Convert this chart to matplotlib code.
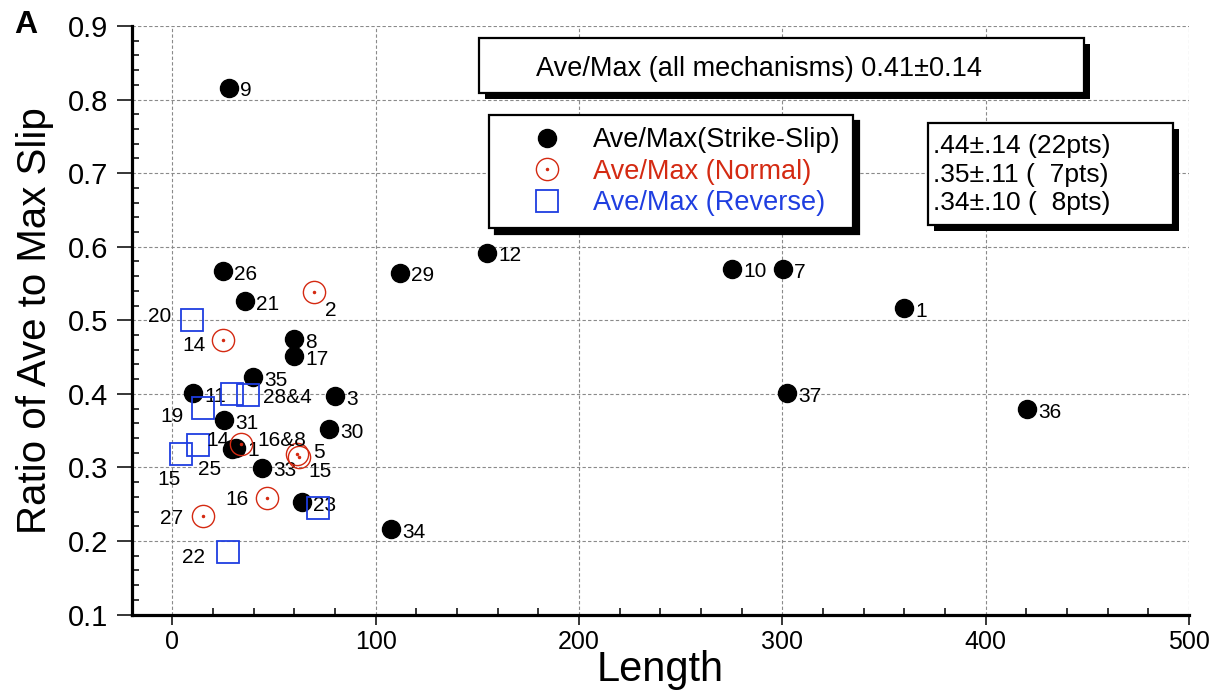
import matplotlib
matplotlib.use("Agg")
import matplotlib.pyplot as plt
import matplotlib.patheffects as pe
from matplotlib.lines import Line2D
from matplotlib.patches import Rectangle
from matplotlib.legend_handler import HandlerTuple
from matplotlib.ticker import MultipleLocator

plt.rcParams['font.family'] = ['Liberation Sans', 'DejaVu Sans']

RED = '#d42a12'
BLUE = '#1f3ee0'

# strike-slip events: rupture length vs ave/max slip ratio
ss_len = [28, 24.8, 35.8, 60, 60, 39.9, 10.3, 80.1, 25.5, 77.2, 29.4, 31.4,
          44.3, 112.2, 155, 275.2, 300.3, 359.9, 302.3, 420.5, 107.7, 64]
ss_ratio = [0.816, 0.5665, 0.526, 0.474, 0.451, 0.4227, 0.4005, 0.397, 0.3643,
            0.3517, 0.3244, 0.327, 0.2997, 0.5647, 0.592, 0.570, 0.569, 0.516,
            0.4005, 0.379, 0.216, 0.2524]
ss_id = ["9", "26", "21", "8", "17", "35", "11", "3", "31", "30", "", "1",
         "33", "29", "12", "10", "7", "1", "37", "36", "34", "23"]

# normal events
nm_len = [69.8, 24.8, 33.9, 61.3, 62.1, 46.8, 15.3]
nm_ratio = [0.539, 0.4725, 0.3323, 0.318, 0.3147, 0.258, 0.2334]
nm_id = ["2", "14", "16&8", "5", "15", "16", "27"]

# reverse events
rv_len = [9.9, 15, 29.6, 37, 12.8, 4.1, 71.9, 27.3]
rv_ratio = [0.5005, 0.381, 0.400, 0.399, 0.33, 0.3178, 0.2447, 0.1856]
rv_id = [("20",), ("19",), (), ("28&4",), ("14", "25"), ("15",), (), ("22",)]

summary = "Ave/Max (all mechanisms) 0.41\u00b10.14"
stats = [".44\u00b1.14 (22pts)", ".35\u00b1.11 (  7pts)", ".34\u00b1.10 (  8pts)"]
legend_names = ["Ave/Max(Strike-Slip)", "Ave/Max (Normal)", "Ave/Max (Reverse)"]

# label offsets in pixels (dx, dy, ha)
ss_off = {}
nm_off = {"2": (11, -17, 'left'), "14": (-17, -3, 'right'), "16&8": (16, 5, 'left'),
          "5": (16, 4, 'left'), "15": (10, -13, 'left'), "16": (-19, 1, 'right'),
          "27": (-20, 0, 'right')}
rv_off = {"20": (-21, 5, 'right'), "19": (-19, -7, 'right'), "28&4": (15, -1, 'left'),
          "14": (8, 7, 'left'), "25": (0, -22, 'left'), "15": (0, -23, 'right'),
          "22": (-23, -4, 'right')}

W, H = 1215, 698
fig = plt.figure(figsize=(W / 100, H / 100), dpi=100)
ax = fig.add_axes([131.6 / W, 1 - 614.5 / H, (1189 - 131.6) / W, (614.5 - 26) / H])


def label_points(xs, ys, names, offsets, default, z):
    for x, y, tags in zip(xs, ys, names):
        if isinstance(tags, str):
            tags = (tags,) if tags else ()
        for t in tags:
            dx, dy, ha = offsets.get(t, default)
            ax.annotate(t, (x, y), xytext=(dx, dy), textcoords='offset pixels',
                        ha=ha, va='center_baseline', fontsize=15, zorder=z)


ax.plot(ss_len, ss_ratio, ls='none', marker='o', ms=13, color='k', zorder=3)
label_points(ss_len, ss_ratio, ss_id, ss_off, (11, -1, 'left'), 3.5)

ax.plot(nm_len, nm_ratio, ls='none', marker='o', ms=16, mfc='none', mec=RED, mew=1.0, zorder=4)
ax.plot(nm_len, nm_ratio, ls='none', marker='o', ms=1.5, color=RED, zorder=4)
label_points(nm_len, nm_ratio, nm_id, nm_off, (10, 0, 'left'), 4.5)

ax.plot(rv_len, rv_ratio, ls='none', marker='s', ms=15.5, mfc='none', mec=BLUE, mew=1.3, zorder=5)
label_points(rv_len, rv_ratio, rv_id, rv_off, (10, 0, 'left'), 5.5)

ax.set_xlim(-20, 500)
ax.set_ylim(0.1, 0.9)
ax.xaxis.set_major_locator(MultipleLocator(100))
ax.xaxis.set_minor_locator(MultipleLocator(20))
ax.yaxis.set_major_locator(MultipleLocator(0.1))
ax.yaxis.set_minor_locator(MultipleLocator(0.02))
ax.grid(True, which='major', color='#8a8a8a', ls=(0, (3, 2)), lw=0.8)
ax.set_axisbelow(True)

for s in ['top', 'right']:
    ax.spines[s].set_visible(False)
for s in ['left', 'bottom']:
    ax.spines[s].set_linewidth(2.3)

ax.tick_params(which='major', direction='out', width=1.1)
ax.tick_params(which='minor', direction='in', length=5, width=1.1)
ax.tick_params(axis='y', which='major', length=10.8, pad=6, labelsize=21)
ax.tick_params(axis='x', which='major', length=7, pad=4, labelsize=18)

ax.set_xlabel("Length", fontsize=30, labelpad=-3)
ax.set_ylabel("Ratio of Ave to Max Slip", fontsize=29, labelpad=10)

fig.text(14 / W, 1 - 33 / H, "A", fontsize=23, weight='bold', va='baseline')

shadow = [pe.SimplePatchShadow(offset=(4.3, -4.3), shadow_rgbFace='k', alpha=1), pe.Normal()]

# summary box
box = Rectangle((479 / W, 1 - 93 / H), (1084 - 479) / W, (93 - 38) / H,
                transform=fig.transFigure, fc='w', ec='k', lw=1.6, path_effects=shadow)
fig.add_artist(box)
fig.text(536 / W, 1 - 75.7 / H, summary, fontsize=19.5, va='baseline')

# per-mechanism stats box
sbox = Rectangle((927.7 / W, 1 - 225 / H), (1172.7 - 927.7) / W, (225 - 122.7) / H,
                 transform=fig.transFigure, fc='w', ec='k', lw=1.6, path_effects=shadow)
fig.add_artist(sbox)
for i, line in enumerate(stats):
    fig.text(933 / W, 1 - (153.3 + 28.3 * i) / H, line, fontsize=19, va='baseline')

h_ss = Line2D([], [], ls='none', marker='o', ms=13, color='k')
h_nm = (Line2D([], [], ls='none', marker='o', ms=16, mfc='none', mec=RED, mew=1.0),
        Line2D([], [], ls='none', marker='o', ms=1.5, color=RED))
h_rv = Line2D([], [], ls='none', marker='s', ms=15.5, mfc='none', mec=BLUE, mew=1.3)
leg = ax.legend([h_ss, h_nm, h_rv], legend_names,
                handler_map={tuple: HandlerTuple(ndivide=1, pad=0)},
                loc='upper left', bbox_to_anchor=(489 / W, 1 - 115 / H),
                bbox_transform=fig.transFigure, borderaxespad=0, fontsize=19.5,
                labelcolor=['k', RED, BLUE], fancybox=False, edgecolor='k',
                framealpha=1, shadow={'color': 'k', 'alpha': 1, 'ox': 4.3, 'oy': -4.3},
                handlelength=3.4, handletextpad=0.0, borderpad=0.45, labelspacing=0.2)
leg.get_frame().set_linewidth(1.6)
leg.set_zorder(10)

fig.savefig("out.png", dpi=100)
